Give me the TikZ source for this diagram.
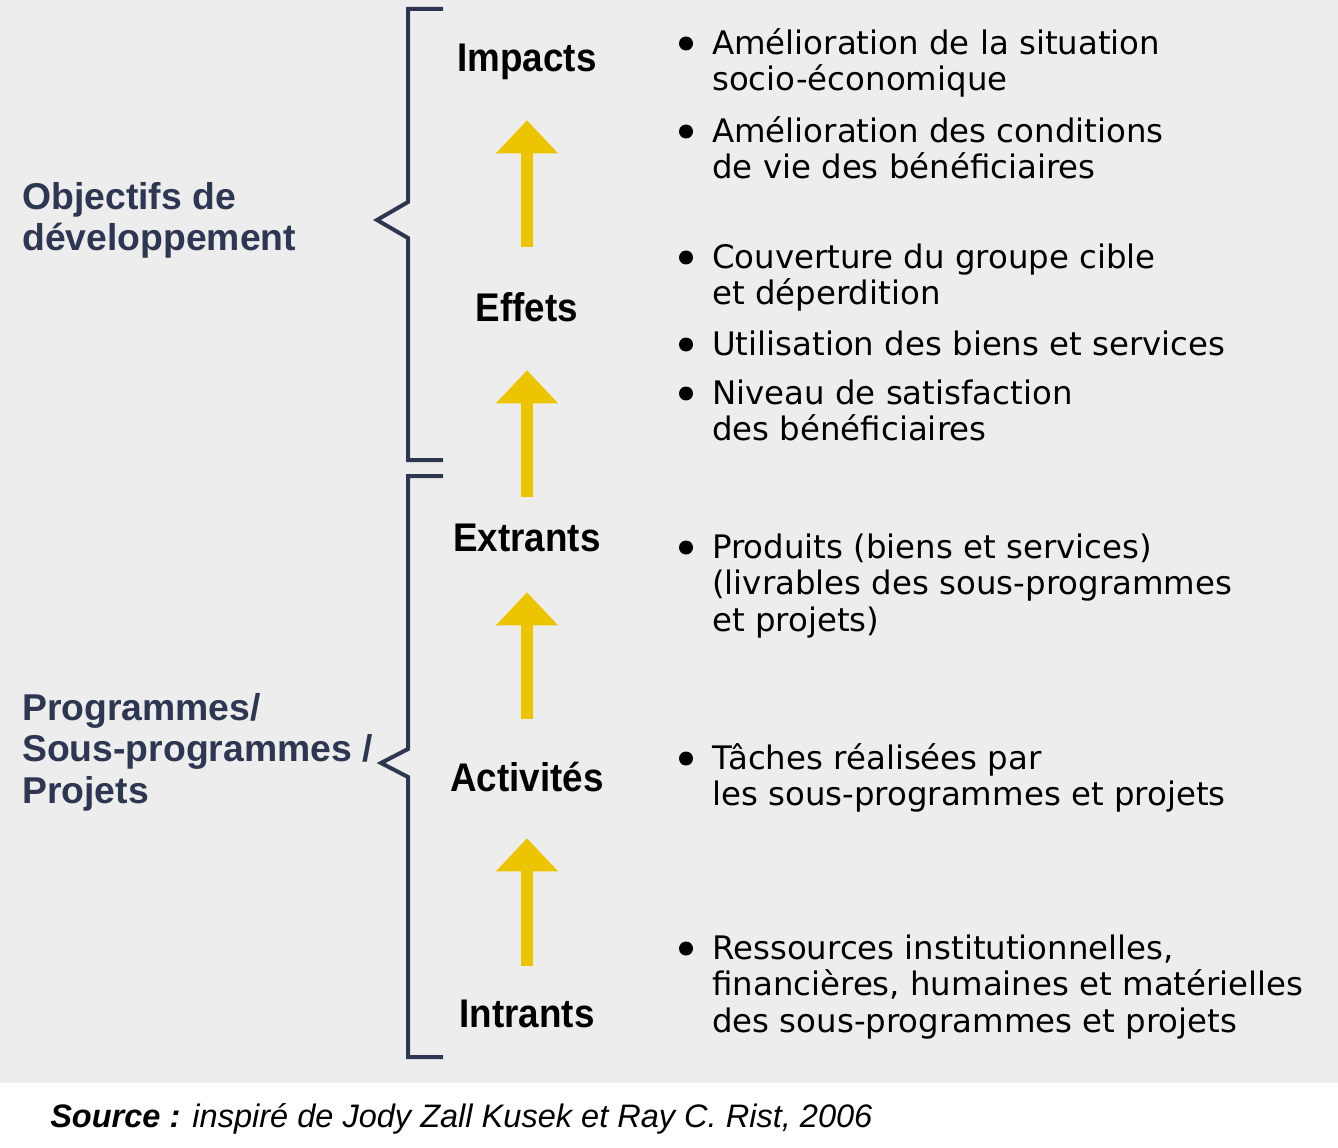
\documentclass[tikz,border=0pt]{standalone}
\usepackage{fontspec}
\setmainfont{DejaVu Sans}
\newfontfamily\lblfont[FakeStretch=0.92]{Liberation Sans}
\newfontfamily\grpfont{Liberation Sans}
\usetikzlibrary{arrows.meta}
\definecolor{bggray}{HTML}{EDEDED}
\definecolor{navy}{HTML}{2D3752}
\definecolor{gold}{HTML}{EDC400}
\newcommand\tightlines{\setlength{\lineskiplimit}{-20pt}}

\begin{document}
\begin{tikzpicture}[x=0.75pt, y=-0.75pt,
    level/.style={font=\lblfont\bfseries\fontsize{30}{36}\selectfont, inner sep=0pt, text height=22.5pt, text depth=6.75pt, anchor=base},
    group/.style={font={\grpfont\bfseries\fontsize{28}{31.2}\selectfont\tightlines}, text=navy, align=left, inner sep=0pt, anchor=north west},
    item/.style={font={\fontsize{24.3}{27.4}\selectfont\tightlines}, align=left, inner sep=0pt, anchor=north west},
    dot/.style={circle, fill=black, inner sep=0pt, minimum size=10.5pt},
    uparrow/.style={draw=gold, line width=9pt, -{Triangle[width=45pt, length=24.75pt]}},
    bracket/.style={draw=navy, line width=3pt}]
        \fill[white] (0,0) rectangle (1338,1148);
        \fill[bggray] (0,0) rectangle (1338,1083);
        \useasboundingbox (0,0) rectangle (1338,1148);
        % brackets
        \draw[bracket] (443,9) -- (408,9) -- (408,202) -- (377,220) -- (408,238) -- (408,460) -- (443,460);
        \draw[bracket] (443,476) -- (408,476) -- (408,749) -- (381,763) -- (408,777) -- (408,1057) -- (443,1057);
        \node[group] (objectifs) at (22,173) {\rule{0pt}{27pt}Objectifs de\\développement};
        \node[group] (programmes) at (22,684) {\rule{0pt}{27pt}Programmes/\\Sous-programmes /\\Projets};
        % chain
        \node[level] (impacts) at (527,72) {Impacts};
        \node[level] (effets) at (527,321) {Effets};
        \node[level] (extrants) at (527,551) {Extrants};
        \node[level] (activites) at (527,791) {Activités};
        \node[level] (intrants) at (527,1027) {Intrants};
        \foreach \a/\b/\sa/\sb in {effets/impacts/33pt/29.25pt, extrants/effets/18pt/30pt, activites/extrants/31.5pt/24pt, intrants/activites/23.25pt/28.5pt}{
          \draw[uparrow, shorten <=\sa, shorten >=\sb] (\a.north) -- (\b.south);
        }
        % bullets
        \foreach \yb/\txt [count=\i] in {54/{Amélioration de la situation\\socio-économique},
            142/{Amélioration des conditions\\de vie des bénéficiaires},
            268/{Couverture du groupe cible\\et déperdition},
            355/{Utilisation des biens et services},
            404/{Niveau de satisfaction\\des bénéficiaires},
            558/{Produits (biens et services)\\(livrables des sous-programmes\\et projets)},
            769/{Tâches réalisées par\\les sous-programmes et projets},
            959/{Ressources institutionnelles,\\financières, humaines et matérielles\\des sous-programmes et projets}}{
          \node[dot] (dot\i) at (686,\yb-10.5) {};
          \node[item] (item\i) at (712,\yb-32) {\rule{0pt}{24pt}\txt};
        }
        \node[anchor=base west, inner sep=0pt, font=\grpfont\itshape\fontsize{24.4}{28}\selectfont] (source) at (50,1127) {\textbf{Source :} inspiré de Jody Zall Kusek et Ray C. Rist, 2006};
\end{tikzpicture}
\end{document}
